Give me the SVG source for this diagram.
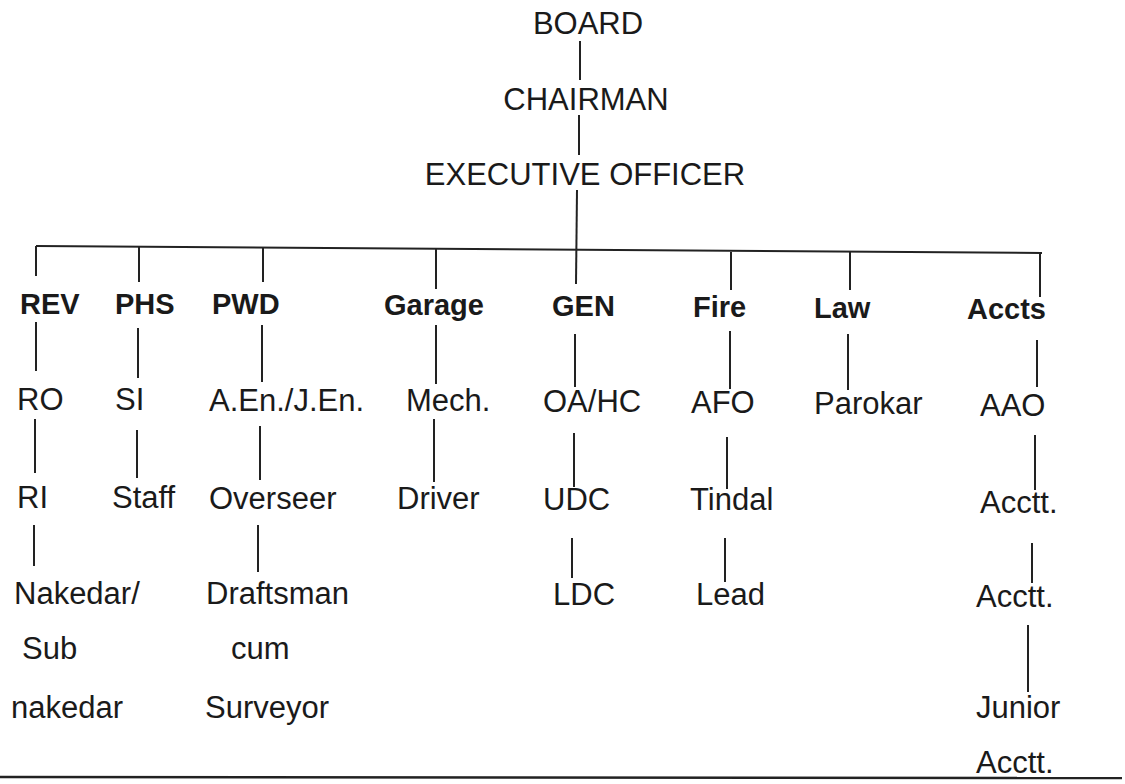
<svg xmlns="http://www.w3.org/2000/svg" width="1125" height="784" viewBox="0 0 1125 784">
<style>
text{font-family:"Liberation Sans",Arial,sans-serif;font-size:31px;fill:#1a1a1a}
.b{font-weight:bold;font-size:29px}
.m{text-anchor:middle}
#connectors line{stroke:#222;stroke-width:2;fill:none}
</style>
<rect width="1125" height="784" fill="#fff"/>
<g id="connectors">
<line x1="580" y1="41" x2="580" y2="80"/>
<line x1="579" y1="115" x2="579" y2="155"/>
<line x1="577" y1="190" x2="576" y2="284"/>
<line x1="36" y1="246" x2="1042" y2="253"/>
<line x1="36" y1="246" x2="36" y2="276"/>
<line x1="139" y1="247" x2="139" y2="282"/>
<line x1="263" y1="247" x2="263" y2="282"/>
<line x1="436" y1="248" x2="436" y2="289"/>
<line x1="731" y1="252" x2="731" y2="290"/>
<line x1="850" y1="252" x2="850" y2="290"/>
<line x1="1040" y1="253" x2="1040" y2="297"/>
<line x1="36" y1="322" x2="36" y2="371"/>
<line x1="138" y1="328" x2="138" y2="378"/>
<line x1="262" y1="325" x2="262" y2="382"/>
<line x1="436" y1="325" x2="436" y2="384"/>
<line x1="575" y1="334" x2="575" y2="387"/>
<line x1="730" y1="331" x2="730" y2="389"/>
<line x1="848" y1="334" x2="848" y2="390"/>
<line x1="1037" y1="340" x2="1037" y2="387"/>
<line x1="35" y1="419" x2="35" y2="473"/>
<line x1="137" y1="430" x2="137" y2="478"/>
<line x1="260" y1="426" x2="260" y2="480"/>
<line x1="434" y1="419" x2="434" y2="482"/>
<line x1="574" y1="433" x2="574" y2="487"/>
<line x1="727" y1="437" x2="727" y2="489"/>
<line x1="1035" y1="435" x2="1035" y2="490"/>
<line x1="34" y1="525" x2="34" y2="566"/>
<line x1="258" y1="525" x2="258" y2="572"/>
<line x1="572" y1="538" x2="572" y2="578"/>
<line x1="725" y1="538" x2="725" y2="582"/>
<line x1="1032" y1="543" x2="1032" y2="583"/>
<line x1="1028" y1="625" x2="1028" y2="692"/>
<line x1="0" y1="777" x2="1122" y2="778" style="stroke-width:2.5"/>
</g>
<g id="board"><text class="m" x="588" y="34">BOARD</text></g>
<g id="chairman"><text class="m" x="586" y="110">CHAIRMAN</text></g>
<g id="exec"><text class="m" x="585" y="185">EXECUTIVE OFFICER</text></g>
<g id="rev"><text class="b" x="20" y="314">REV</text></g>
<g id="phs"><text class="b" x="115" y="314">PHS</text></g>
<g id="pwd"><text class="b" x="212" y="314">PWD</text></g>
<g id="garage"><text class="b" x="384" y="315">Garage</text></g>
<g id="gen"><text class="b" x="552" y="316">GEN</text></g>
<g id="fire"><text class="b" x="693" y="317">Fire</text></g>
<g id="law"><text class="b" x="814" y="318">Law</text></g>
<g id="accts"><text class="b" x="967" y="319">Accts</text></g>
<g id="ro"><text x="17" y="410">RO</text></g>
<g id="si"><text x="115" y="410">SI</text></g>
<g id="aen"><text x="209" y="411">A.En./J.En.</text></g>
<g id="mech"><text x="406" y="411">Mech.</text></g>
<g id="oahc"><text x="543" y="412">OA/HC</text></g>
<g id="afo"><text x="691" y="413">AFO</text></g>
<g id="parokar"><text x="814" y="414">Parokar</text></g>
<g id="aao"><text x="980" y="416">AAO</text></g>
<g id="ri"><text x="17" y="508">RI</text></g>
<g id="staff"><text x="112" y="508">Staff</text></g>
<g id="overseer"><text x="209" y="509">Overseer</text></g>
<g id="driver"><text x="397" y="509">Driver</text></g>
<g id="udc"><text x="543" y="510">UDC</text></g>
<g id="tindal"><text x="690" y="510">Tindal</text></g>
<g id="acctt1"><text x="980" y="513">Acctt.</text></g>
<g id="nakedar"><text x="14" y="604">Nakedar/</text><text x="22" y="659">Sub</text><text x="11" y="718">nakedar</text></g>
<g id="draftsman"><text x="206" y="604">Draftsman</text><text x="231" y="659">cum</text><text x="205" y="718">Surveyor</text></g>
<g id="ldc"><text x="553" y="605">LDC</text></g>
<g id="lead"><text x="696" y="605">Lead</text></g>
<g id="acctt2"><text x="976" y="607">Acctt.</text></g>
<g id="junior"><text x="976" y="718">Junior</text><text x="976" y="773">Acctt.</text></g>
</svg>
